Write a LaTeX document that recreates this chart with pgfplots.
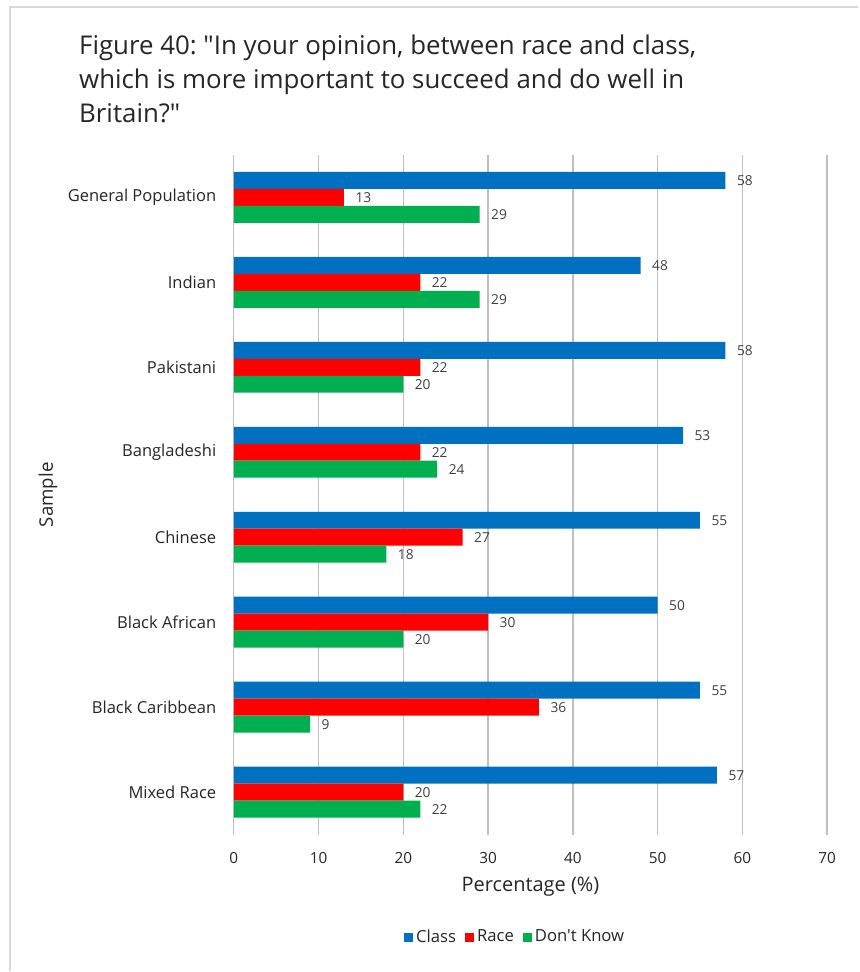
\documentclass[border=0pt]{standalone}
\usepackage{pgfplots}
\pgfplotsset{compat=1.18}
\usepackage{fontspec}
\setmainfont{Open Sans}[Ligatures=TeXOff]
\frenchspacing
\definecolor{cClass}{HTML}{0070C0}
\definecolor{cRace}{HTML}{FF0000}
\definecolor{cDK}{HTML}{00B050}
\definecolor{txt}{HTML}{262626}
\definecolor{lbl}{HTML}{404040}
\definecolor{grid}{HTML}{D9D9D9}
\begin{document}
\begin{tikzpicture}[x=0.75pt,y=-0.75pt]
\path (0,0) rectangle (859,972);
\draw[grid,line width=1.5pt] (10,972) -- (10,7) -- (859,7);
\node[anchor=base west,font=\fontsize{19.4pt}{23pt}\selectfont,text=txt,inner sep=0pt] at (79,55) {Figure 40: "In your opinion, between race and class,};
\node[anchor=base west,font=\fontsize{19.4pt}{23pt}\selectfont,text=txt,inner sep=0pt] at (79,89) {which is more important to succeed and do well in};
\node[anchor=base west,font=\fontsize{19.4pt}{23pt}\selectfont,text=txt,inner sep=0pt] at (79,123) {Britain?"};
\coordinate (P) at (234,835.5);
\begin{axis}[
  at={(P)}, anchor=south west,
  scale only axis, width=445.5pt, height=510.4pt,
  xbar, bar width=12.75pt,
  xmin=0, xmax=70, xtick={0,10,...,70},
  ymin=-0.5, ymax=7.5, ytick={0,...,7},
  yticklabels={Mixed Race,Black Caribbean,Black African,Chinese,Bangladeshi,Pakistani,Indian,General Population},
  axis line style={draw=none}, major tick length=0pt,
  xtick style={draw=none}, ytick style={draw=none},
  xmajorgrids, ymajorgrids=false, major grid style={grid,line width=1.1pt},
  /pgf/number format/assume math mode=true,
  xticklabel style={font=\fontsize{11.5pt}{13pt}\selectfont,text=txt,inner sep=0pt,yshift=-13pt},
  yticklabel style={font=\fontsize{12.4pt}{14pt}\selectfont,text=txt,inner sep=0pt,xshift=-13pt},
  xlabel={Percentage (\%)}, ylabel={Sample},
  xlabel style={font=\fontsize{15pt}{17pt}\selectfont,text=txt,at={(axis description cs:0.5,-0.0764)},anchor=center},
  ylabel style={font=\fontsize{14pt}{16pt}\selectfont,text=txt,at={(axis description cs:-0.313,0.5)},anchor=center},
  nodes near coords,
  every node near coord/.append style={font=\fontsize{10.3pt}{12pt}\selectfont,text=lbl,inner sep=0pt,xshift=8.5pt,anchor=west},
  legend columns=-1,
  legend style={draw=none,at={(0.475,-0.1506)},anchor=center,font=\fontsize{12.5pt}{14pt}\selectfont,text=txt,
    /tikz/every even column/.append style={column sep=5pt},
    /tikz/every odd column/.append style={column sep=0pt}},
  legend image code/.code={\fill[#1,draw=none] (0pt,-3.4pt) rectangle (6.8pt,3.4pt);},
]
\addplot[fill=cClass,draw=none,bar shift=12.75pt] coordinates {(57,0) (55,1) (50,2) (55,3) (53,4) (58,5) (48,6) (58,7)};
\addplot[fill=cRace,draw=none,bar shift=0pt] coordinates {(20,0) (36,1) (30,2) (27,3) (22,4) (22,5) (22,6) (13,7)};
\addplot[fill=cDK,draw=none,bar shift=-12.75pt] coordinates {(22,0) (9,1) (20,2) (18,3) (24,4) (20,5) (29,6) (29,7)};
\legend{Class,Race,Don't Know}
\end{axis}
\end{tikzpicture}
\end{document}
